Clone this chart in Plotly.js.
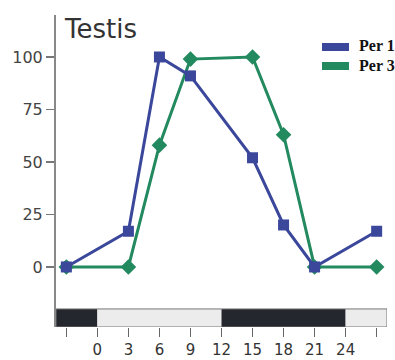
<!DOCTYPE html>
<html>
<head>
<meta charset="utf-8">
<script src="https://cdn.plot.ly/plotly-3.0.1.min.js"></script>
<style>html,body{margin:0;padding:0;background:#fff;}#chart{width:395px;height:360px;}</style>
</head>
<body>
<div id="chart"></div>
<script>
// Data
const hours = [-3, 3, 6, 9, 15, 18, 21, 27];
const per1 = [0, 17, 100, 91, 52, 20, 0, 17];
const per3 = [0, 0, 58, 99, 100, 63, 0, 0];
const seriesNames = ['Per 1', 'Per 3'];
const tickHours = [-3, 0, 3, 6, 9, 12, 15, 18, 21, 24, 27];
const tickLabels = ['', '0', '3', '6', '9', '12', '15', '18', '21', '24', ''];
const yTicks = [0, 25, 50, 75, 100];
// light/dark periods (start, end, phase)
const periodStart = [-4, 0, 12, 24];
const periodEnd = [0, 12, 24, 28];
const periodPhase = ['dark', 'light', 'dark', 'light'];

const blue = '#3a479b';
const green = '#23895f';
const seriesColors = [blue, green];
const yMin = -28.6, yMax = 120, barTop = -20;

// plot-area pixel geometry (for legend placement)
const L = 56, R = 387, T = 15, B = 327;
const px = v => (v - L) / (R - L);
const py = v => (B - v) / (B - T);

const traces = [
  {x: hours, y: per3, mode: 'lines+markers', name: seriesNames[1], showlegend: false,
   line: {color: green, width: 3}, marker: {symbol: 'diamond', size: 12, color: green}},
  {x: hours, y: per1, mode: 'lines+markers', name: seriesNames[0], showlegend: false,
   line: {color: blue, width: 3}, marker: {symbol: 'square', size: 11, color: blue}}
];

const shapes = periodStart.map((s, i) => ({
  type: 'rect', xref: 'x', yref: 'y', x0: s, x1: periodEnd[i], y0: yMin, y1: barTop,
  fillcolor: periodPhase[i] === 'dark' ? '#24272d' : '#ececec',
  line: {width: 0}, layer: 'below'
}));
shapes.push({type: 'rect', xref: 'x', yref: 'y', x0: periodStart[0], x1: periodEnd[periodEnd.length - 1],
  y0: yMin, y1: barTop, line: {color: '#777', width: 1}, fillcolor: 'rgba(0,0,0,0)'});

// manual legend
const legendTop = [43, 62];
const annotations = [];
seriesNames.forEach((n, i) => {
  shapes.push({type: 'rect', xref: 'paper', yref: 'paper',
    x0: px(322), x1: px(349), y0: py(legendTop[i] + 8), y1: py(legendTop[i]),
    fillcolor: seriesColors[i], line: {width: 0}});
  annotations.push({xref: 'paper', yref: 'paper', x: px(357), y: py(legendTop[i] + 3),
    xanchor: 'left', yanchor: 'middle', showarrow: false, text: '<b>' + n + '</b>',
    font: {family: 'Liberation Serif', size: 16, color: '#111'}});
});

const layout = {
  width: 395, height: 360,
  margin: {l: L, r: 395 - R, t: T, b: 360 - B},
  paper_bgcolor: '#fff', plot_bgcolor: '#fff',
  title: {text: 'Testis', font: {family: 'DejaVu Sans', size: 26, color: '#333'},
    xref: 'container', yref: 'container', x: 65 / 395, xanchor: 'left', y: 1 - 20 / 360, yanchor: 'top'},
  xaxis: {range: [-4, 28], showgrid: false, zeroline: false, showline: false,
    tickmode: 'array', tickvals: tickHours, ticktext: tickLabels,
    ticks: 'outside', ticklen: 9, tickwidth: 1.5, tickcolor: '#666',
    tickfont: {family: 'DejaVu Sans', size: 15, color: '#333'}, fixedrange: true},
  yaxis: {range: [yMin, yMax], showgrid: false, zeroline: false, showline: true,
    linecolor: '#888', linewidth: 2,
    tickmode: 'array', tickvals: yTicks, ticks: 'outside', ticklen: 8, tickwidth: 1.5, tickcolor: '#777',
    tickfont: {family: 'DejaVu Sans', size: 16, color: '#444'}, fixedrange: true},
  shapes: shapes,
  annotations: annotations,
  showlegend: false
};

Plotly.newPlot('chart', traces, layout, {displayModeBar: false, staticPlot: true});
</script>
</body>
</html>
